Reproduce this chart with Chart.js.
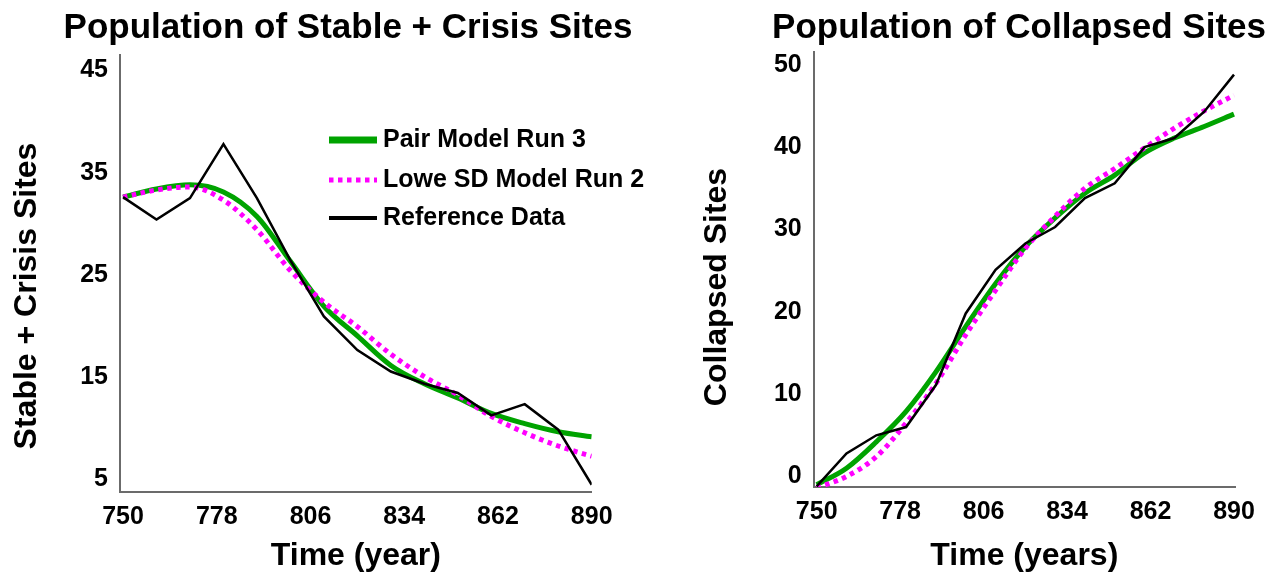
<!DOCTYPE html>
<html lang="en">
<head>
<meta charset="UTF-8">
<title>Population of Sites</title>
<style>
  html, body { margin: 0; padding: 0; background: #fff; overflow: hidden; }
  canvas { position: absolute; top: 0; }
</style>
</head>
<body>
<canvas id="stableCrisis" width="696" height="575" style="left:0"></canvas>
<canvas id="collapsed" width="658" height="575" style="left:690px"></canvas>
<script src="https://cdn.jsdelivr.net/npm/chart.js"></script>
<script>
// data, one value every 10 years
const years = [750, 760, 770, 780, 790, 800, 810, 820, 830, 840, 850, 860, 870, 880, 890];
const yearTicks = [750, 778, 806, 834, 862, 890];

const stableTicks = [5, 15, 25, 35, 45];
const stablePair = [32.6, 33.4, 33.8, 33.1, 30.7, 26.3, 21.9, 19.0, 16.1, 14.3, 12.9, 11.4, 10.4, 9.6, 9.1];
const stableLowe = [32.6, 33.3, 33.6, 32.3, 29.4, 25.4, 22.3, 19.9, 17.2, 15.0, 13.2, 11.1, 9.5, 8.2, 7.2];
const stableRef = [32.6, 30.4, 32.5, 37.8, 32.5, 26.4, 20.9, 17.6, 15.5, 14.3, 13.4, 11.2, 12.3, 9.8, 4.4];

const collapsedTicks = [0, 10, 20, 30, 40, 50];
const collapsedPair = [-1.0, 1.0, 4.2, 7.9, 12.7, 18.2, 23.4, 27.9, 31.4, 34.4, 36.6, 39.3, 41.1, 42.5, 44.0];
const collapsedLowe = [-1.4, 0.0, 2.4, 6.5, 11.3, 17.2, 22.6, 27.7, 31.6, 35.0, 37.4, 39.9, 42.3, 44.4, 46.3];
const collapsedRef = [-1.2, 2.8, 5.0, 6.0, 11.1, 19.8, 25.1, 28.3, 30.3, 33.8, 35.6, 40.0, 41.1, 44.3, 48.8];

const seriesNames = ['Pair Model Run 3', 'Lowe SD Model Run 2', 'Reference Data'];

const fontFamily = '"Liberation Sans", Arial, sans-serif';
Chart.defaults.font.family = fontFamily;
Chart.defaults.color = '#000';

function points(values) {
  return years.map((yr, i) => ({ x: yr, y: values[i] }));
}

function makeDatasets(pair, lowe, ref) {
  return [
    {
      label: seriesNames[0], data: points(pair),
      borderColor: '#00a300', borderWidth: 5,
      cubicInterpolationMode: 'monotone', pointRadius: 0, order: 2
    },
    {
      label: seriesNames[1], data: points(lowe),
      borderColor: '#ff00ff', borderWidth: 5, borderDash: [4.5, 4.5], borderCapStyle: 'butt',
      cubicInterpolationMode: 'monotone', pointRadius: 0, order: 1
    },
    {
      label: seriesNames[2], data: points(ref),
      borderColor: '#000', borderWidth: 2.5, tension: 0, pointRadius: 0, order: 0
    }
  ];
}

// legend drawn inside the plot, at a fixed spot
const insideLegend = {
  id: 'insideLegend',
  afterDraw(chart, args, opts) {
    const ctx = chart.ctx;
    ctx.save();
    ctx.font = 'bold 25px ' + fontFamily;
    ctx.textBaseline = 'middle';
    chart.data.datasets.forEach((ds, i) => {
      const y = opts.rows[i];
      ctx.beginPath();
      ctx.strokeStyle = ds.borderColor;
      ctx.lineWidth = opts.sampleWidths[i];
      ctx.setLineDash(ds.borderDash || []);
      ctx.moveTo(opts.left, y);
      ctx.lineTo(opts.left + opts.sampleLength, y);
      ctx.stroke();
      ctx.setLineDash([]);
      ctx.fillStyle = '#000';
      ctx.fillText(ds.label, opts.left + opts.sampleLength + 6, y);
    });
    ctx.restore();
  }
};

// vertical axis title, placed where the original has it (a bit below the middle)
const sideTitle = {
  id: 'sideTitle',
  afterDraw(chart, args, opts) {
    const ctx = chart.ctx;
    ctx.save();
    ctx.translate(opts.x, opts.y);
    ctx.rotate(-Math.PI / 2);
    ctx.font = 'bold 32px ' + fontFamily;
    ctx.textAlign = 'center';
    ctx.textBaseline = 'middle';
    ctx.fillStyle = '#000';
    ctx.fillText(opts.text, 0, 0);
    ctx.restore();
  }
};

function makeConfig(cfg) {
  return {
    type: 'line',
    data: { datasets: makeDatasets(cfg.pair, cfg.lowe, cfg.ref) },
    plugins: cfg.legend ? [sideTitle, insideLegend] : [sideTitle],
    options: {
      responsive: false,
      animation: false,
      plugins: {
        legend: { display: false },
        tooltip: { enabled: false },
        title: {
          display: true, text: cfg.title,
          font: { size: 35, weight: 'bold' }, color: '#000',
          padding: { top: 7, bottom: cfg.topHeight - 49 }
        },
        sideTitle: cfg.yTitle,
        insideLegend: cfg.legend || {}
      },
      scales: {
        x: {
          type: 'linear', min: cfg.xMin, max: cfg.xMax,
          afterBuildTicks: s => { s.ticks = yearTicks.map(v => ({ value: v })); },
          afterFit: s => { s.height = cfg.bottomHeight; },
          grid: { display: false, drawTicks: false },
          border: { display: true, color: '#6b6b6b', width: 2 },
          ticks: { font: { size: 25, weight: 'bold' }, padding: 10, autoSkip: false, maxRotation: 0 },
          title: { display: true, text: cfg.xTitle, font: { size: 32, weight: 'bold' }, padding: { top: 0, bottom: 0 } }
        },
        y: {
          type: 'linear', min: cfg.yMin, max: cfg.yMax,
          afterBuildTicks: s => { s.ticks = cfg.yTicks.map(v => ({ value: v })); },
          afterFit: s => { s.width = cfg.leftWidth; },
          grid: { display: false, drawTicks: false },
          border: { display: true, color: '#6b6b6b', width: 2 },
          ticks: { font: { size: 25, weight: 'bold' }, padding: 12 }
        },
        // empty right axis, keeps white space right of the plot
        spacer: {
          axis: 'y', type: 'linear', position: 'right', min: 0, max: 1,
          afterFit: s => { s.width = cfg.rightWidth; },
          grid: { display: false, drawTicks: false },
          border: { display: false },
          ticks: { display: false }
        }
      }
    }
  };
}

new Chart(document.querySelector('#stableCrisis'), makeConfig({
  title: 'Population of Stable + Crisis Sites',
  xTitle: 'Time (year)',
  yTitle: { text: 'Stable + Crisis Sites', x: 27, y: 296 },
  pair: stablePair, lowe: stableLowe, ref: stableRef,
  yTicks: stableTicks, yMin: 3.72, yMax: 46.53,
  xMin: 749.1, xMax: 890,
  leftWidth: 120, rightWidth: 104.3, topHeight: 55, bottomHeight: 83.3,
  legend: { left: 329, sampleLength: 48, rows: [140, 180, 218], sampleWidths: [7, 5, 4] }
}));

new Chart(document.querySelector('#collapsed'), makeConfig({
  title: 'Population of Collapsed Sites',
  xTitle: 'Time (years)',
  yTitle: { text: 'Collapsed Sites', x: 27, y: 287 },
  pair: collapsedPair, lowe: collapsedLowe, ref: collapsedRef,
  yTicks: collapsedTicks, yMin: -1.28, yMax: 51.55,
  xMin: 749.0, xMax: 890.34,
  leftWidth: 123.7, rightWidth: 113, topHeight: 52, bottomHeight: 88,
  legend: null
}));
</script>
</body>
</html>
